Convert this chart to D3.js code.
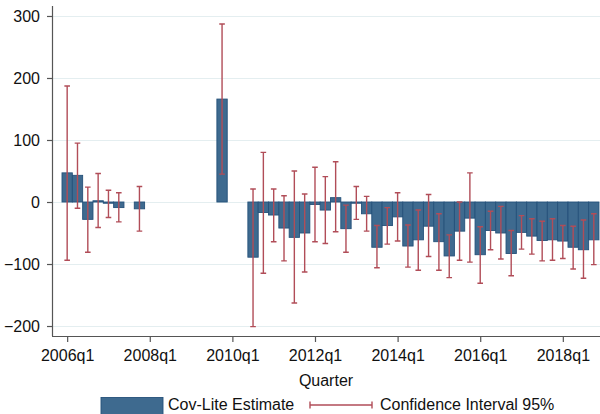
<!DOCTYPE html>
<html>
<head>
<meta charset="utf-8">
<script src="https://cdn.jsdelivr.net/npm/d3@7"></script>
<style>
  html, body { margin: 0; padding: 0; background: #fff; }
  svg { display: block; }
  text { font-family: "Liberation Sans", Arial, Helvetica, sans-serif; fill: #111; }
</style>
</head>
<body>
<svg id="chart" width="600" height="414"></svg>
<script>
// Quarters 2006q1 .. 2018q4
const years = d3.range(2006, 2019);
const quarters = years.flatMap(yr => [1, 2, 3, 4].map(q => yr + "q" + q));

// Estimates (null = not estimated)
const estimate = [
  47, 43, -28, 2,        // 2006
  -2, -9, null, -11,     // 2007
  null, null, null, null,// 2008
  null, null, null, 166, // 2009
  null, null, -89, -17,  // 2010
  -21, -42, -57, -50,    // 2011
  -4, -13, 7, -43,       // 2012
  -2, -19, -73, -38,     // 2013
  -24, -71, -61, -39,    // 2014
  -64, -87, -47, -26,    // 2015
  -85, -46, -50, -83,    // 2016
  -49, -55, -62, -61,    // 2017
  -63, -73, -77, -61     // 2018
];
const ciLow = [
  -94, -10, -81, -41,
  -25, -32, null, -47,
  null, null, null, null,
  null, null, null, 45,
  null, null, -201, -115,
  -64, -95, -163, -113,
  -64, -67, -48, -81,
  -28, -47, -106, -68,
  -63, -105, -110, -88,
  -110, -122, -94, -97,
  -131, -77, -92, -119,
  -76, -84, -95, -94,
  -91, -108, -123, -101
];
const ciHigh = [
  187, 95, 24, 46,
  19, 15, null, 25,
  null, null, null, null,
  null, null, null, 287,
  null, null, 21, 80,
  21, 10, 50, 13,
  56, 41, 65, -5,
  25, 9, -38, -9,
  15, -37, -13, 12,
  -19, -53, 0, 47,
  -40, -15, -7, -46,
  -22, -27, -31, -27,
  -38, -39, -29, -19
];
const yTicks = [-200, -100, 0, 100, 200, 300];
const xTickIdx = [0, 8, 16, 24, 32, 40, 48];
const xTickLabels = ["2006q1", "2008q1", "2010q1", "2012q1", "2014q1", "2016q1", "2018q1"];
const xTitle = "Quarter";
const legendLabels = ["Cov-Lite Estimate", "Confidence Interval 95%"];

(function () {
const barFill = "#3e6a8f", barStroke = "#25517a", ciColor = "#b14d58", gridColor = "#e4eef0";

const svg = d3.select("#chart");
const pLeft = 52, pRight = 600, pTop = 6, pBottom = 336;

const x = d3.scaleLinear().domain([-1.42, 51.6]).range([pLeft + 0.5, pRight]);
const y = d3.scaleLinear().domain([-216.1, 316.1]).range([pBottom, pTop]);

const data = quarters.map((q, i) => ({ i, q, est: estimate[i], lo: ciLow[i], hi: ciHigh[i] }))
  .filter(d => d.est !== null);

// grid
svg.append("g").selectAll("line").data(yTicks).join("line")
  .attr("x1", pLeft).attr("x2", pRight)
  .attr("y1", d => Math.round(y(d)) + 0.5).attr("y2", d => Math.round(y(d)) + 0.5)
  .attr("stroke", gridColor).attr("stroke-width", 1);

// bars
svg.append("g").selectAll("rect").data(data).join("rect")
  .attr("x", d => x(d.i - 0.5))
  .attr("width", d => x(d.i + 0.5) - x(d.i - 0.5))
  .attr("y", d => Math.min(y(d.est), y(0)))
  .attr("height", d => Math.max(1, Math.abs(y(d.est) - y(0))))
  .attr("fill", barFill).attr("stroke", barStroke).attr("stroke-width", 0.9);

// CI
const ci = svg.append("g").attr("stroke", ciColor).attr("stroke-width", 1.4).attr("fill", "none");
const capW = 2.8;
ci.selectAll("path").data(data).join("path")
  .attr("d", d => {
    const cx = x(d.i), y1 = y(d.hi), y2 = y(d.lo);
    return `M${cx},${y1}V${y2}M${cx - capW},${y1}H${cx + capW}M${cx - capW},${y2}H${cx + capW}`;
  });

// axes
const yAxis = svg.append("g").attr("transform", `translate(${pLeft},0)`)
  .call(d3.axisLeft(y).tickValues(yTicks).tickSize(5).tickPadding(7));
yAxis.select(".domain").attr("d", `M0.5,${pTop}V${pBottom}`);
const xAxis = svg.append("g").attr("transform", `translate(0,${pBottom})`)
  .call(d3.axisBottom(x).tickValues(xTickIdx).tickSize(6).tickPadding(8)
    .tickFormat((d, k) => xTickLabels[k]));
xAxis.select(".domain").attr("d", `M${pLeft},0.5H${pRight}`);
svg.selectAll(".domain").attr("stroke", "#555").attr("stroke-width", 1.2);
svg.selectAll(".tick line").attr("stroke", "#555").attr("stroke-width", 1.2);
svg.selectAll(".tick text").attr("font-size", 16).attr("fill", "#111")
  .attr("font-family", "Liberation Sans, Arial, sans-serif");

svg.append("text").attr("x", 326).attr("y", 386).attr("text-anchor", "middle")
  .attr("font-size", 16).text(xTitle);

// legend
svg.append("rect").attr("x", 101).attr("y", 397.5).attr("width", 62).attr("height", 20)
  .attr("fill", barFill).attr("stroke", barStroke).attr("stroke-width", 0.9);
svg.append("text").attr("x", 168).attr("y", 410).attr("font-size", 16).text(legendLabels[0]);
const lg = svg.append("g").attr("stroke", ciColor).attr("stroke-width", 1.4);
lg.append("line").attr("x1", 310).attr("x2", 372).attr("y1", 405).attr("y2", 405);
lg.append("line").attr("x1", 310).attr("x2", 310).attr("y1", 401.5).attr("y2", 408.5);
lg.append("line").attr("x1", 372).attr("x2", 372).attr("y1", 401.5).attr("y2", 408.5);
svg.append("text").attr("x", 380).attr("y", 410).attr("font-size", 16).text(legendLabels[1]);
})();
</script>
</body>
</html>
